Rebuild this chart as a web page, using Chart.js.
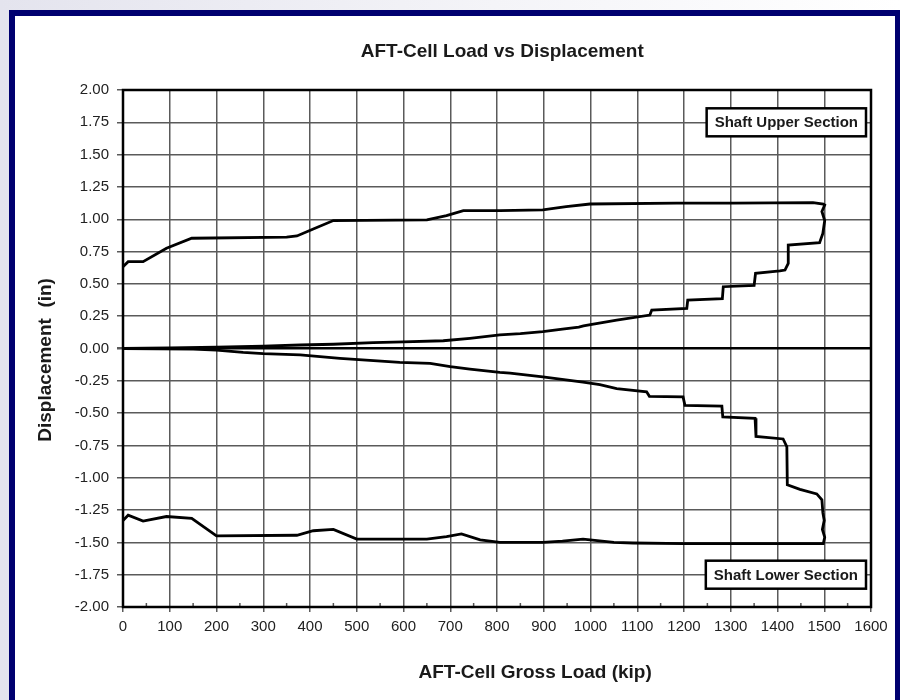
<!DOCTYPE html>
<html>
<head>
<meta charset="utf-8">
<script src="https://cdn.jsdelivr.net/npm/chart.js@4.4.1/dist/chart.umd.min.js"></script>
<style>
html, body { margin: 0; padding: 0; }
body { width: 900px; height: 700px; overflow: hidden; position: relative;
  background: linear-gradient(to right, #e4e4ee, #f4f4f8 55%, #ffffff); }
#frame { position: absolute; left: 9px; top: 10px; width: 880px; height: 720px;
  background: #fff; border: 6px solid #000070; }
#wrap { position: absolute; left: 0; top: 0; width: 900px; height: 700px; }
</style>
</head>
<body>
<div id="frame"></div>
<div id="wrap"><canvas id="chart" width="900" height="700"></canvas></div>
<script>
// upper section: load up to 1500, creep, then unload back to 0
const upperLoad = [0, 100, 200, 300, 379, 450, 535, 600, 685, 742, 806, 850, 898, 940, 975, 985, 1000, 1056, 1127, 1131, 1206, 1208, 1282, 1284, 1350, 1353, 1405, 1416, 1423, 1423, 1490, 1497, 1501, 1495, 1501,
  1498, 1476, 1305, 1184, 999, 948, 898, 806, 728, 692, 650, 450, 407, 372, 350, 147, 93, 43, 11, 0];
const upperDisp = [0, 0.004, 0.01, 0.018, 0.027, 0.033, 0.045, 0.052, 0.06, 0.079, 0.105, 0.115, 0.13, 0.15, 0.165, 0.175, 0.185, 0.22, 0.259, 0.298, 0.311, 0.375, 0.385, 0.478, 0.489, 0.582, 0.6, 0.607, 0.659, 0.8, 0.819, 0.89, 0.99, 1.06, 1.11,
  1.118, 1.128, 1.125, 1.125, 1.118, 1.097, 1.072, 1.067, 1.067, 1.028, 0.995, 0.99, 0.925, 0.871, 0.861, 0.853, 0.776, 0.672, 0.672, 0.633];

// lower section: load up to 1500, creep, then unload back to 0
const lowerLoad = [0, 150, 200, 257, 300, 379, 464, 592, 657, 700, 742, 806, 828, 898, 984, 1020, 1056, 1120, 1126, 1198, 1202, 1281, 1283, 1352, 1354, 1412, 1420, 1421, 1448, 1484, 1495, 1497, 1500, 1496, 1501, 1498,
  1400, 1200, 1091, 1050, 984, 940, 898, 806, 764, 724, 692, 650, 500, 450, 407, 372, 200, 147, 93, 43, 11, 0];
const lowerDisp = [0, -0.005, -0.012, -0.03, -0.04, -0.05, -0.076, -0.107, -0.115, -0.14, -0.159, -0.184, -0.19, -0.22, -0.26, -0.28, -0.31, -0.335, -0.37, -0.375, -0.44, -0.445, -0.53, -0.54, -0.68, -0.7, -0.76, -1.055, -1.09, -1.125, -1.17, -1.27, -1.33, -1.4, -1.46, -1.51,
  -1.51, -1.51, -1.505, -1.5, -1.475, -1.49, -1.5, -1.5, -1.48, -1.435, -1.455, -1.475, -1.475, -1.4, -1.41, -1.445, -1.45, -1.315, -1.3, -1.335, -1.29, -1.33];

const sectionNames = ['Shaft Upper Section', 'Shaft Lower Section'];
const sectionLevels = [1.75, -1.75];

const chartTitle = 'AFT-Cell Load vs Displacement';
const xTitle = 'AFT-Cell Gross Load (kip)';
const yTitle = 'Displacement  (in)';

const toPoints = (xs, ys) => xs.map((x, i) => ({x: x, y: ys[i]}));

Chart.defaults.font.family = "'Liberation Sans', Arial, sans-serif";
Chart.defaults.color = '#222';

const extras = {
  id: 'extras',
  beforeDatasetsDraw(chart) {
    const {ctx, chartArea: a, scales} = chart;
    ctx.save();
    // minor ticks on the x axis
    ctx.strokeStyle = '#555';
    ctx.lineWidth = 1.5;
    for (let v = 50; v < 1600; v += 100) {
      const px = scales.x.getPixelForValue(v);
      ctx.beginPath();
      ctx.moveTo(px, a.bottom);
      ctx.lineTo(px, a.bottom - 4);
      ctx.stroke();
    }
    // plot frame
    ctx.strokeStyle = '#000';
    ctx.lineWidth = 2.5;
    ctx.strokeRect(a.left, a.top, a.right - a.left, a.bottom - a.top);
    ctx.restore();
  },
  afterDatasetsDraw(chart) {
    const {ctx, chartArea: a, scales} = chart;
    ctx.save();
    ctx.font = "bold 15px 'Liberation Sans', Arial, sans-serif";
    ctx.textBaseline = 'middle';
    sectionNames.forEach((name, i) => {
      const cy = scales.y.getPixelForValue(sectionLevels[i]);
      const w = ctx.measureText(name).width + 16;
      const h = 28;
      const x0 = a.right - 5 - w;
      ctx.fillStyle = '#fff';
      ctx.fillRect(x0, cy - h / 2, w, h);
      ctx.strokeStyle = '#000';
      ctx.lineWidth = 2.5;
      ctx.strokeRect(x0, cy - h / 2, w, h);
      ctx.fillStyle = '#1a1a1a';
      ctx.textAlign = 'left';
      ctx.fillText(name, x0 + 8, cy + 1);
    });

    // titles
    const w = a.right - a.left, h = a.bottom - a.top;
    ctx.fillStyle = '#1a1a1a';
    ctx.textAlign = 'center';
    ctx.font = "bold 19px 'Liberation Sans', Arial, sans-serif";
    ctx.fillText(chartTitle, a.left + w * 0.507, 52);
    ctx.fillText(xTitle, a.left + w * 0.551, 673);
    ctx.translate(46, a.top + h * 0.522);
    ctx.rotate(-Math.PI / 2);
    ctx.fillText(yTitle, 0, 0);
    ctx.restore();
  }
};

new Chart(document.getElementById('chart'), {
  type: 'scatter',
  data: {
    datasets: [
      {label: sectionNames[0], data: toPoints(upperLoad, upperDisp)},
      {label: sectionNames[1], data: toPoints(lowerLoad, lowerDisp)}
    ]
  },
  options: {
    responsive: false,
    animation: false,
    devicePixelRatio: 1,
    showLine: true,
    layout: {padding: {top: 90, right: 29, bottom: 0, left: 0}},
    elements: {
      line: {borderColor: '#000', borderWidth: 2.8, tension: 0, fill: false},
      point: {radius: 0, hoverRadius: 0}
    },
    plugins: {legend: {display: false}, tooltip: {enabled: false}},
    scales: {
      x: {
        type: 'linear', min: 0, max: 1600,
        afterFit: s => { s.height = 93; },
        ticks: {stepSize: 100, font: {size: 15}, color: '#222', padding: 6, maxRotation: 0,
          callback: v => String(v)},
        grid: {color: '#5a5a5a', lineWidth: 1.5, tickColor: '#5a5a5a', tickLength: 5},
        border: {display: false}
      },
      y: {
        type: 'linear', min: -2, max: 2,
        afterFit: s => { s.width = 123; },
        ticks: {stepSize: 0.25, font: {size: 15}, color: '#222', padding: 8,
          callback: v => v.toFixed(2)},
        grid: {
          color: c => (c.tick && c.tick.value === 0) ? '#000' : '#5a5a5a',
          lineWidth: c => (c.tick && c.tick.value === 0) ? 2.5 : 1.5,
          tickColor: '#5a5a5a', tickLength: 6
        },
        border: {display: false}
      }
    }
  },
  plugins: [extras]
});
</script>
</body>
</html>
